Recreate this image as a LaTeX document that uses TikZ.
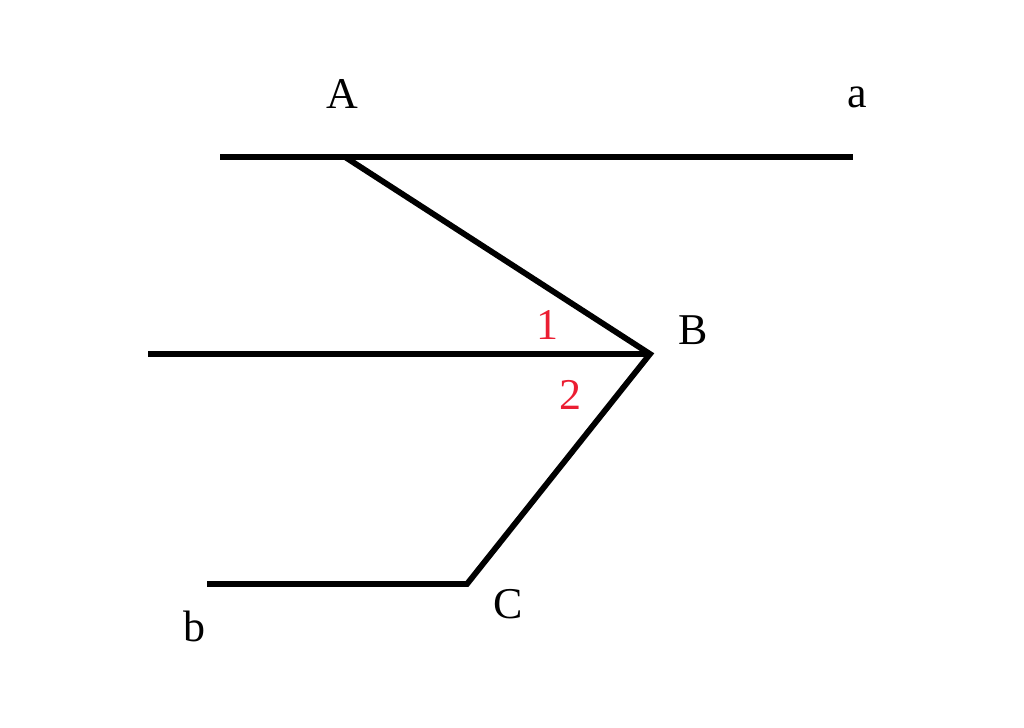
\documentclass[tikz,border=0pt]{standalone}
\usepackage{fontspec}
\setmainfont{Liberation Serif}
\definecolor{angred}{RGB}{235,30,50}
\begin{document}
\begin{tikzpicture}[x=0.01cm,y=-0.01cm,
  seg/.style={line width=1.65pt,line join=miter},
  lbl/.style={font=\fontsize{12.5}{14}\selectfont,inner sep=0pt},
  anglbl/.style={lbl,text=angred}]
\useasboundingbox (0,0) rectangle (1024,727);
\coordinate (L1) at (220,157);
\coordinate (R1) at (853,157);
\coordinate (A) at (345,157);
\coordinate (B) at (650,354);
\coordinate (L2) at (148,354);
\coordinate (C) at (467,584);
\coordinate (L3) at (207,584);
\draw[seg] (L1) -- (R1);
\draw[seg] (A) -- (B) -- (C) -- (L3);
\draw[seg] (L2) -- (B);
\node[lbl] (tA) at (342,94) {A};
\node[lbl] (ta) at (857,97) {a};
\node[lbl] (tB) at (693,330) {B};
\node[lbl] (tC) at (508,604) {C};
\node[lbl] (tb) at (194,626) {b};
\node[anglbl] (t1) at (547,325) {1};
\node[anglbl] (t2) at (570,395) {2};
\end{tikzpicture}
\end{document}
